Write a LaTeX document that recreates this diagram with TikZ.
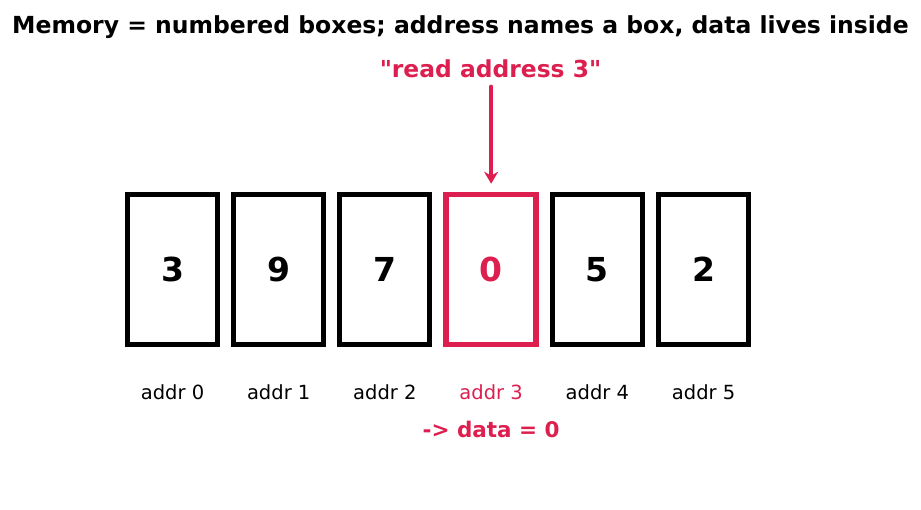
\documentclass[tikz,border=0pt]{standalone}
\usepackage{fontspec}
\setmainfont{DejaVu Sans}
\usetikzlibrary{positioning}
\usetikzlibrary{arrows.meta}
\definecolor{hilite}{HTML}{DC1F4E}

\tikzset{
  cell/.style={draw, line width=5pt, minimum width=90pt, minimum height=150pt, inner sep=0pt,
    font=\fontsize{33}{36}\selectfont\bfseries},
  hotcell/.style={cell, draw=hilite, text=hilite, line width=5.5pt},
  addr/.style={inner sep=0pt, font=\fontsize{19.5}{22}\selectfont},
  note/.style={text=hilite, font=\fontsize{23.4}{26}\selectfont\bfseries},
}

\begin{document}
\begin{tikzpicture}[x=1pt, y=1pt]
    \useasboundingbox (0,0) rectangle (921,510);
    \node[font=\fontsize{23.5}{26}\selectfont\bfseries] (title) at (460.5,483) {Memory = numbered boxes; address names a box, data lives inside};
    % the row of cells
    \node[cell] (c0) at (172.5,240.5) {3};
    \node[cell, right = 11.2pt of c0] (c1) {9};
    \node[cell, right = 11.2pt of c1] (c2) {7};
    \node[hotcell, right = 11pt of c2] (c3) {0};
    \node[cell, right = 11pt of c3] (c4) {5};
    \node[cell, right = 11.2pt of c4] (c5) {2};
    % addresses
    \node[addr, below = 37pt of c0] (a0) {addr 0};
    \node[addr, below = 37pt of c1] (a1) {addr 1};
    \node[addr, below = 37pt of c2] (a2) {addr 2};
    \node[addr, text=hilite, below = 37pt of c3] (a3) {addr 3};
    \node[addr, below = 37pt of c4] (a4) {addr 4};
    \node[addr, below = 37pt of c5] (a5) {addr 5};
    \node[note, font=\fontsize{21.5}{24}\selectfont\bfseries, below = 18pt of a3] (res) {-> data = 0};
    % the request
    \node[note] (req) at (490.5,441) {\textquotedbl read address 3\textquotedbl};
    \path[draw, hilite, line width=4pt, line cap=round, -{Stealth[length=12pt, width=14pt]}, shorten >=8pt, shorten <=5pt] (c3.north |- req.south) -- (c3.north);
\end{tikzpicture}
\end{document}
